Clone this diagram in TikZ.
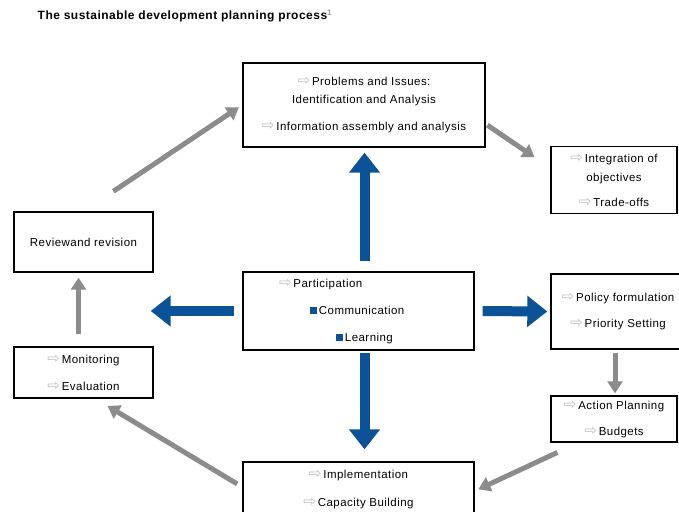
\documentclass[tikz,border=0pt]{standalone}
\usepackage{fontspec}
\setmainfont{Liberation Sans}[LetterSpace=4]
\newfontfamily\symfont{DejaVu Sans}
\usetikzlibrary{arrows.meta}

\definecolor{planblue}{RGB}{12,82,150}
\definecolor{plangray}{RGB}{140,140,140}
\newcommand{\hintarrow}{{\symfont\color{black!25}\fontsize{15}{14}\selectfont ⇨}\,}
\newcommand{\bluesq}{{\color{planblue}\rule{7pt}{7pt}}\,}

\begin{document}
\begin{tikzpicture}[x=1pt, y=-1pt, thick, font=\fontsize{11.5}{14}\selectfont,
  main/.style = {draw, line width=1.4pt, align=center, inner sep=0pt},
  flow/.style = {line width=5pt, plangray, -{Triangle[width=15pt,length=12pt]}},
  core/.style = {line width=10pt, planblue, -{Triangle[width=30pt,length=20pt]}}]
    \useasboundingbox (0,0) rectangle (679,511);

    \node[anchor=west, font=\bfseries\fontsize{12}{14}\selectfont] (title) at (34,16)
        {The sustainable development planning process\textsuperscript{\color{black!40}1}};

    \node[main, minimum width=242pt, minimum height=84pt] (prob) at (364,105)
        {\hintarrow Problems and Issues:\\[4pt] Identification and Analysis\\[13pt]
         \hintarrow Information assembly and analysis};
    \node[main, minimum width=126pt, minimum height=67pt] (integ) at (614,180)
        {\hintarrow Integration of\\[5pt] objectives\\[11pt] \hintarrow Trade-offs};
    \node[main, minimum width=139pt, minimum height=60pt] (review) at (83.5,242)
        {Reviewand revision};
    \node[main, minimum width=231pt, minimum height=78pt, align=left,
          text width=215pt, inner xsep=8pt] (hub) at (358.5,311)
        {\hspace*{28pt}\hintarrow Participation\\[13pt]
         \hspace*{59pt}\bluesq Communication\\[13pt]
         \hspace*{85pt}\bluesq Learning};
    \node[main, minimum width=134pt, minimum height=75pt] (policy) at (618,311.5)
        {\hintarrow Policy formulation\\[12pt] \hintarrow Priority Setting};
    \node[main, minimum width=139pt, minimum height=51pt] (monitor) at (83.5,372.5)
        {\hintarrow Monitoring\\[13pt] \hintarrow Evaluation};
    \node[main, minimum width=126pt, minimum height=46pt] (action) at (614,419)
        {\hintarrow Action Planning\\[12pt] \hintarrow Budgets};
    \node[main, minimum width=231pt, minimum height=54pt] (impl) at (358.5,489)
        {\hintarrow Implementation\\[14pt] \hintarrow Capacity Building};

    % the planning cycle
    \draw[flow, shorten <=36pt, shorten >=4pt] (review.north) -- (prob.west);
    \draw[flow, shorten <=2pt, shorten >=19pt] ([yshift=-19pt]prob.east) -- ([yshift=12pt]integ.west);
    \draw[flow, shorten <=3pt, shorten >=2pt] ([xshift=-3pt]policy.south) -- ([xshift=-3pt]policy.south |- action.north);
    \draw[flow, shorten <=23pt, shorten >=4pt] ([xshift=28pt]action.south west) -- ([yshift=-2pt]impl.east);
    \draw[flow, shorten <=6pt, shorten >=14pt] ([yshift=2pt]impl.west) -- ([xshift=12pt]monitor.south);
    \draw[flow, shorten <=12pt, shorten >=5pt] ([xshift=-5pt]monitor.north) -- ([xshift=-5pt]review.south);

    % participation feeds every stage
    \draw[core, shorten <=10pt, shorten >=5pt] ([xshift=6pt]hub.north) -- ([xshift=6pt]hub.north |- prob.south);
    \draw[core, shorten <=2pt, shorten >=12pt] ([xshift=6pt]hub.south) -- ([xshift=6pt]hub.south |- impl.north);
    \draw[core, shorten <=8pt, shorten >=-3pt] (hub.west) -- (hub.west -| review.east);
    \draw[core, shorten <=8pt, shorten >=3pt] (hub.east) -- (policy.west);
\end{tikzpicture}
\end{document}
